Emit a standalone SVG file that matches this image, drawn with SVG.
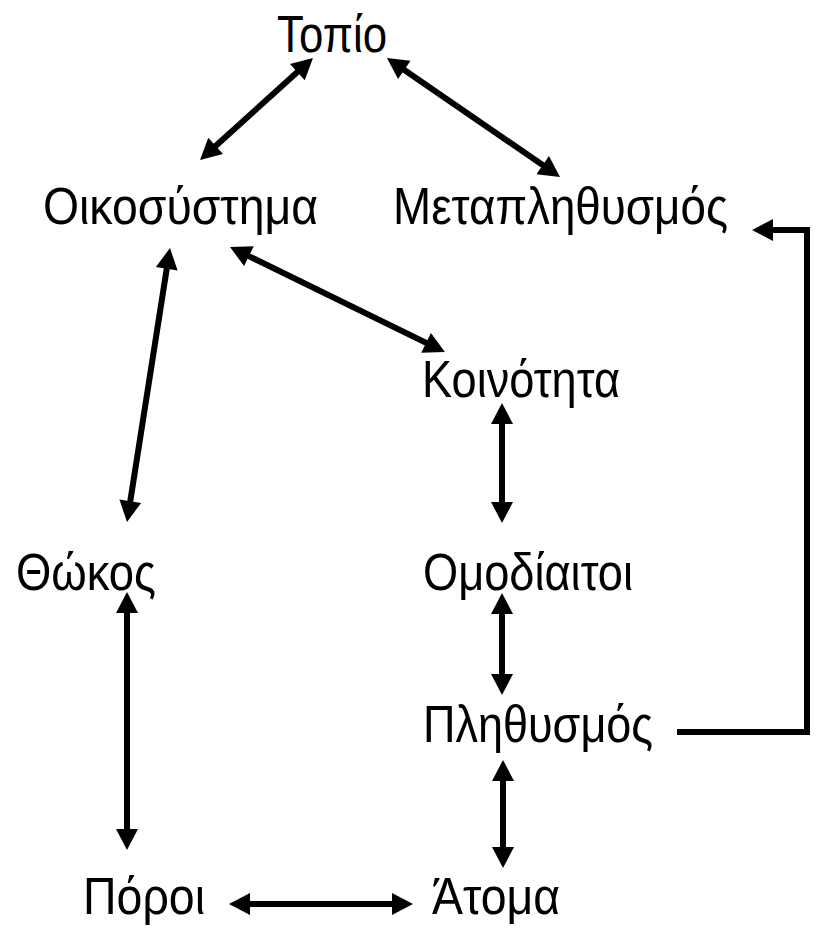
<svg xmlns="http://www.w3.org/2000/svg" width="817" height="936" viewBox="0 0 817 936">
<style>
.t{font-family:"Liberation Sans",Arial,sans-serif;font-size:52px;fill:#000}
.c{stroke:#000;stroke-width:6;fill:none;marker-start:url(#ah);marker-end:url(#ah)}
.e{stroke:#000;stroke-width:6;fill:none;marker-end:url(#ah)}
</style>
<defs>
<marker id="ah" markerUnits="userSpaceOnUse" markerWidth="24" markerHeight="24" refX="3" refY="11" orient="auto-start-reverse" overflow="visible">
<path d="M0,0 L21,11 L0,22 z" fill="#000"/>
</marker>
</defs>
<rect width="817" height="936" fill="#fff"/>
<g id="connectors">
<line class="c" x1="299.6" y1="70.1" x2="213.4" y2="147.9"/>
<line class="c" x1="401.8" y1="68.2" x2="545.2" y2="166.8"/>
<line class="c" x1="246.2" y1="254.9" x2="428.8" y2="344.1"/>
<line class="c" x1="167.2" y1="265.8" x2="129.8" y2="504.2"/>
<line class="c" x1="502" y1="421" x2="502" y2="505"/>
<line class="c" x1="502" y1="611" x2="502" y2="677"/>
<line class="c" x1="503" y1="778" x2="503" y2="850"/>
<line class="c" x1="127" y1="610" x2="127" y2="832"/>
<line class="c" x1="247" y1="904" x2="395" y2="904"/>
<polyline class="e" points="677,732 807,732 807,230 770,230"/>
</g>
<g id="topio"><text class="t" x="277" y="52" textLength="110" lengthAdjust="spacingAndGlyphs">Τοπίο</text></g>
<g id="oikosystima"><text class="t" x="43" y="224" textLength="275" lengthAdjust="spacingAndGlyphs">Οικοσύστημα</text></g>
<g id="metaplithysmos"><text class="t" x="393" y="224" textLength="335" lengthAdjust="spacingAndGlyphs">Μεταπληθυσμός</text></g>
<g id="koinotita"><text class="t" x="422" y="397" textLength="198" lengthAdjust="spacingAndGlyphs">Κοινότητα</text></g>
<g id="thokos"><text class="t" x="16" y="590" textLength="140" lengthAdjust="spacingAndGlyphs">Θώκος</text></g>
<g id="omodiaitoi"><text class="t" x="423" y="590" textLength="210" lengthAdjust="spacingAndGlyphs">Ομοδίαιτοι</text></g>
<g id="plithysmos"><text class="t" x="423" y="742" textLength="230" lengthAdjust="spacingAndGlyphs">Πληθυσμός</text></g>
<g id="poroi"><text class="t" x="83" y="914" textLength="122" lengthAdjust="spacingAndGlyphs">Πόροι</text></g>
<g id="atoma"><text class="t" x="432" y="914" textLength="128" lengthAdjust="spacingAndGlyphs">Άτομα</text></g>
</svg>
